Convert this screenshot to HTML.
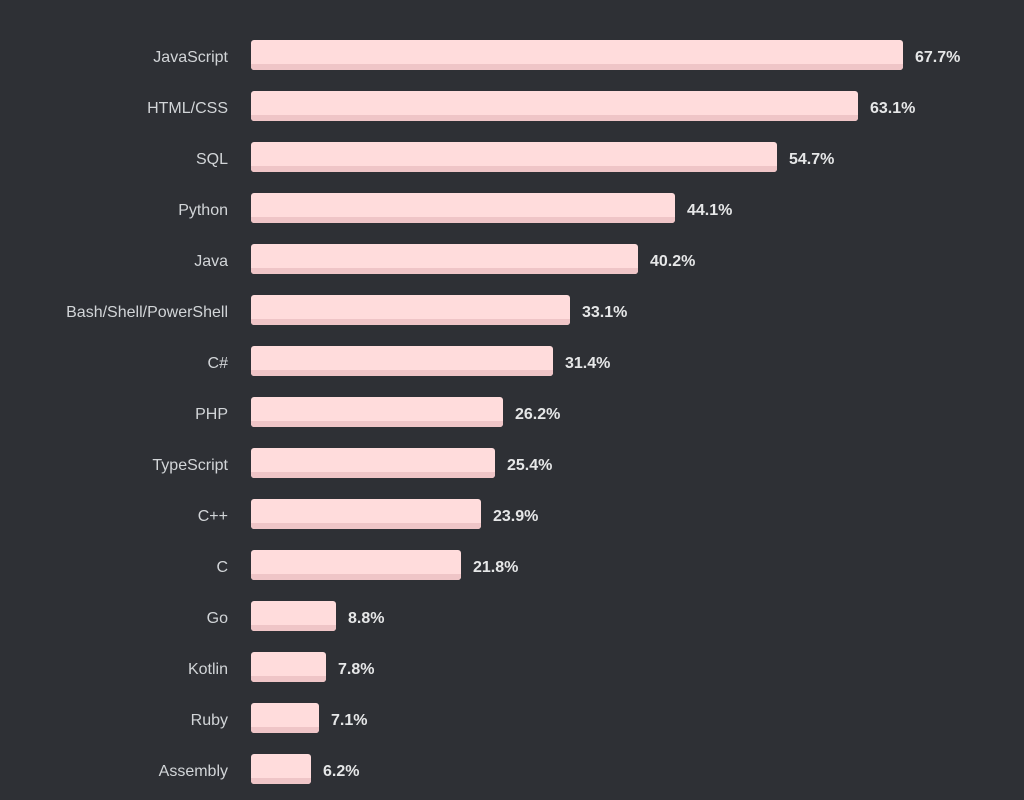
<!DOCTYPE html>
<html>
<head>
<meta charset="utf-8">
<style>
  html, body { margin: 0; padding: 0; background: #2e3035; }
  body { width: 1024px; height: 800px; overflow: hidden; }
  svg { display: block; }
  .lbl { font-family: "Liberation Sans", sans-serif; font-size: 16px; fill: #d2d5d8; }
  .val { font-family: "Liberation Sans", sans-serif; font-size: 16px; font-weight: bold; fill: #e6e7e8; }
</style>
</head>
<body>
<svg width="1024" height="800" viewBox="0 0 1024 800" xmlns="http://www.w3.org/2000/svg">
  <rect width="1024" height="800" fill="#2e3035"/>
  <defs>
    <clipPath id="c0"><rect x="251" y="40" width="652" height="30" rx="3"/></clipPath>
  </defs>
  <g id="bars"></g>
</svg>
<script>
(function(){
  var data = [
    ["JavaScript",67.7],["HTML/CSS",63.1],["SQL",54.7],["Python",44.1],["Java",40.2],
    ["Bash/Shell/PowerShell",33.1],["C#",31.4],["PHP",26.2],["TypeScript",25.4],["C++",23.9],
    ["C",21.8],["Go",8.8],["Kotlin",7.8],["Ruby",7.1],["Assembly",6.2]
  ];
  var ns = "http://www.w3.org/2000/svg";
  var g = document.getElementById("bars");
  var svg = g.ownerSVGElement;
  var defs = svg.querySelector("defs");
  data.forEach(function(d,i){
    var top = 40 + 51*i;
    var w = Math.round(d[1]*9.625);
    var cp = document.createElementNS(ns,"clipPath");
    cp.setAttribute("id","cb"+i);
    var cr = document.createElementNS(ns,"rect");
    cr.setAttribute("x",251); cr.setAttribute("y",top);
    cr.setAttribute("width",w); cr.setAttribute("height",30);
    cr.setAttribute("rx",3);
    cp.appendChild(cr); defs.appendChild(cp);
    var grp = document.createElementNS(ns,"g");
    grp.setAttribute("clip-path","url(#cb"+i+")");
    var r1 = document.createElementNS(ns,"rect");
    r1.setAttribute("x",251); r1.setAttribute("y",top);
    r1.setAttribute("width",w); r1.setAttribute("height",30);
    r1.setAttribute("fill","#ffdcdc");
    var r2 = document.createElementNS(ns,"rect");
    r2.setAttribute("x",251); r2.setAttribute("y",top+24);
    r2.setAttribute("width",w); r2.setAttribute("height",6);
    r2.setAttribute("fill","#efc5c7");
    grp.appendChild(r1); grp.appendChild(r2);
    g.appendChild(grp);
    var t = document.createElementNS(ns,"text");
    t.setAttribute("class","lbl");
    t.setAttribute("x",228); t.setAttribute("y",top+22);
    t.setAttribute("text-anchor","end");
    t.textContent = d[0];
    g.appendChild(t);
    var v = document.createElementNS(ns,"text");
    v.setAttribute("class","val");
    v.setAttribute("x",251+w+12); v.setAttribute("y",top+22);
    v.textContent = d[1].toFixed(1)+"%";
    g.appendChild(v);
  });
})();
</script>
</body>
</html>
